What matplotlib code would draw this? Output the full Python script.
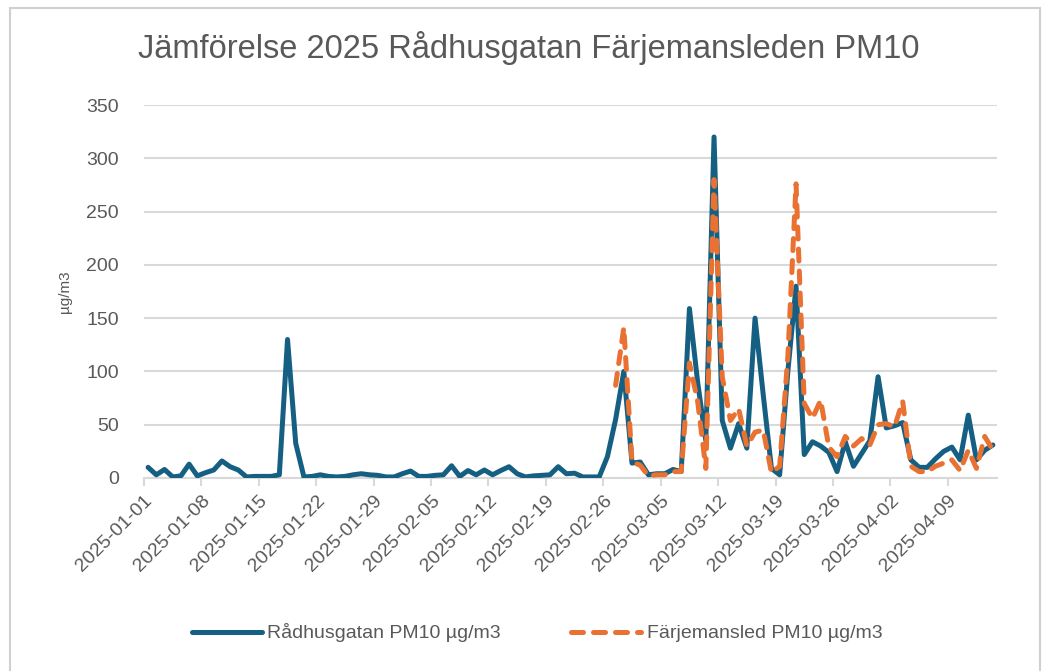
import datetime as dt
import numpy as np
import matplotlib
matplotlib.use("Agg")
import matplotlib.pyplot as plt
from matplotlib.patches import Rectangle

plt.rcParams['font.family'] = ['Liberation Sans', 'DejaVu Sans']

# daily values, 2025-01-01 .. 2025-04-14
start = dt.date(2025, 1, 1)
radhusgatan = [
    10, 3, 8, 1, 2, 13, 2, 5, 7.5, 16,
    10.6, 7.5, 1, 1.5, 1.5, 1.5, 3, 130, 32.5, 1,
    1.5, 3, 1.5, 1, 1.5, 3, 4, 3, 2.5, 1,
    1, 4, 6.5, 1.5, 1.5, 2.5, 3, 11.5, 1.5, 7,
    3, 7.5, 3, 7, 10.6, 4, 1, 2, 2.5, 3,
    10.6, 4, 4.5, 1, 1, 1, 20, 55, 100, 14,
    15, 3, 4, 4, 8, 6, 159, 90, 35, 320,
    54, 28, 51, 28, 150, 78, 9, 3, 100, 180,
    22, 34, 30, 24, 6, 34, 11, 23, 35, 95,
    47, 49, 52, 17, 10, 10, 18, 25, 29, 17,
    59, 17, 26, 31,
]
# Färjemansled starts 2025-02-27 (day 57)
farjemansled_start = 57
farjemansled = [
    87, 141, 15, 12, 2, 3, 3, 6, 6, 108,
    72, 9, 280, 95, 54, 65, 30, 43, 45, 5,
    11, 114, 276, 70, 56, 73, 29, 20, 39, 30,
    37, 31, 50, 51, 48, 72, 11, 6, 6, 11,
    14, 17, 7, 26, 9, 39, 26,
]
y_ticks = [0, 50, 100, 150, 200, 250, 300, 350]

blue = '#156082'
orange = '#E97132'
grey = '#595959'

fig = plt.figure(figsize=(10.51, 6.71), dpi=100)
fig.patches.append(Rectangle((10 / 1051, -0.02), 1030 / 1051, 1.0 - 8 / 671 + 0.02,
                             transform=fig.transFigure, fill=False,
                             edgecolor='#d0d0d0', linewidth=1.5))

ax = fig.add_axes([144 / 1051, 1 - 478 / 671, 853 / 1051, 373 / 671])

days_b = np.arange(len(radhusgatan))
days_o = np.arange(farjemansled_start, farjemansled_start + len(farjemansled))

ax.plot(days_b, radhusgatan, color=blue, linewidth=3.6, solid_joinstyle='round',
        solid_capstyle='round', label='Rådhusgatan PM10 µg/m3', zorder=3)
ax.plot(days_o, farjemansled, color=orange, linewidth=3.6, linestyle=(0, (2.4, 2.0)),
        dash_capstyle='round', dash_joinstyle='round',
        label='Färjemansled PM10 µg/m3', zorder=4)

ax.set_xlim(-0.5, len(radhusgatan) - 0.5)
ax.set_ylim(0, 350)
ax.set_yticks(y_ticks)
ax.yaxis.grid(True, color='#d9d9d9', linewidth=1.5)
ax.set_axisbelow(True)

xt = np.arange(0, len(radhusgatan) - 3, 7)
ax.set_xticks(xt - 0.5)
ax.set_xticklabels([(start + dt.timedelta(days=int(d))).isoformat() for d in xt],
                   rotation=45, ha='right', rotation_mode='anchor')

for s in ['top', 'right', 'left']:
    ax.spines[s].set_visible(False)
ax.spines['bottom'].set_color('#d9d9d9')
ax.spines['bottom'].set_linewidth(1.5)
ax.tick_params(axis='x', colors='#d9d9d9', length=6, width=1.5, labelcolor=grey,
               labelsize=14, pad=4)
ax.tick_params(axis='y', length=0, labelcolor=grey, labelsize=14, pad=18)

ax.set_ylabel('µg/m3', color=grey, fontsize=11, labelpad=10)

fig.text(529 / 1051, 1 - 48 / 671, 'Jämförelse 2025 Rådhusgatan Färjemansleden PM10',
         ha='center', va='center', fontsize=23.5, color=grey)

fig.legend(loc='center', bbox_to_anchor=(537 / 1051, 1 - 633 / 671), ncol=2,
           frameon=False, fontsize=14, labelcolor=grey, handlelength=3.6,
           handletextpad=0.3, columnspacing=3.6)

fig.savefig('out.png', dpi=100)
